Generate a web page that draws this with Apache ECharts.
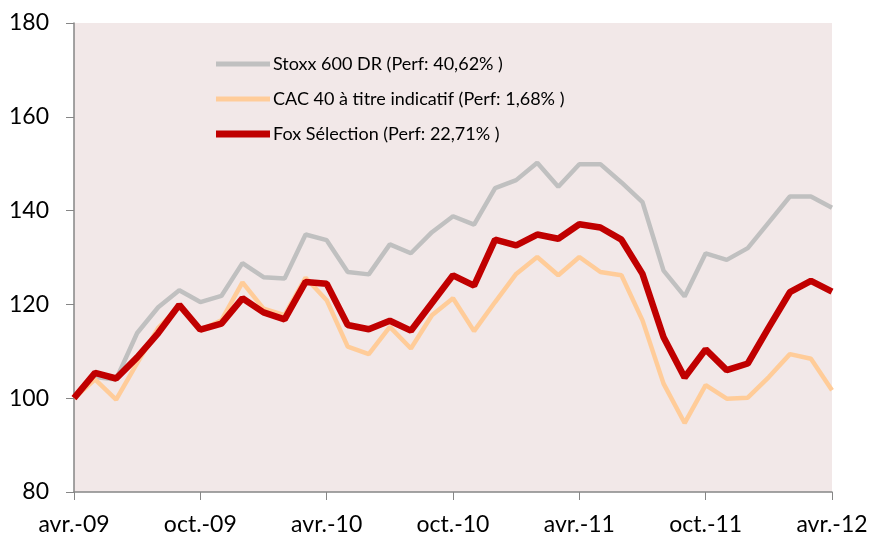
<!DOCTYPE html>
<html lang="fr">
  <head>
    <meta charset="UTF-8" />
    <title>Fox Sélection</title>
    <style>
      html, body { margin: 0; padding: 0; background: #fff; }
      #chart { width: 871px; height: 536px; }
    </style>
  </head>
  <body>
    <div id="chart"></div>
    <script src="https://cdn.jsdelivr.net/npm/echarts@6/dist/echarts.min.js"></script>
    <script>
      // mois, avr.-09 -> avr.-12
      var months = [
        'avr.-09', 'mai-09', 'juin-09', 'juil.-09', 'août-09', 'sept.-09',
        'oct.-09', 'nov.-09', 'déc.-09', 'janv.-10', 'févr.-10', 'mars-10',
        'avr.-10', 'mai-10', 'juin-10', 'juil.-10', 'août-10', 'sept.-10',
        'oct.-10', 'nov.-10', 'déc.-10', 'janv.-11', 'févr.-11', 'mars-11',
        'avr.-11', 'mai-11', 'juin-11', 'juil.-11', 'août-11', 'sept.-11',
        'oct.-11', 'nov.-11', 'déc.-11', 'janv.-12', 'févr.-12', 'mars-12',
        'avr.-12'
      ];

      var stoxx = [
        100, 104.5, 104, 113.9, 119.4, 123, 120.5, 121.8, 128.8, 125.8,
        125.5, 134.9, 133.7, 126.9, 126.4, 132.8, 130.9, 135.4, 138.8, 137,
        144.8, 146.5, 150.2, 145.1, 149.9, 149.9, 146, 141.8, 127.2, 121.7,
        130.9, 129.5, 132, 137.5, 143, 143, 140.62
      ];

      var cac = [
        100, 104, 99.7, 107.5, 115, 119.5, 114.5, 116.6, 124.7, 119.1,
        117.7, 125.7, 120.9, 111, 109.4, 115.2, 110.6, 117.7, 121.3, 114.3,
        120.5, 126.5, 130.1, 126.2, 130.1, 126.9, 126.2, 116.6, 103.1, 94.7,
        102.8, 99.9, 100.1, 104.5, 109.4, 108.4, 101.68
      ];

      var fox = [
        100, 105.4, 104.2, 108.7, 113.9, 119.9, 114.6, 115.9, 121.3, 118.3,
        116.8, 124.8, 124.4, 115.6, 114.7, 116.5, 114.4, 120.3, 126.2, 124,
        133.8, 132.6, 134.9, 134, 137.1, 136.4, 133.8, 126.5, 113, 104.4,
        110.4, 106, 107.4, 115.1, 122.6, 125, 122.71
      ];

      var names = [
        'Stoxx 600 DR (Perf: 40,62% )',
        'CAC 40 à titre indicatif (Perf: 1,68% )',
        'Fox Sélection (Perf: 22,71% )'
      ];

      var font = 'Lato, "Open Sans", sans-serif';
      var myChart = echarts.init(document.getElementById('chart'));

      var option = {
        animation: false,
        textStyle: { fontFamily: font },
        legend: {
          orient: 'vertical',
          left: 211,
          top: 50,
          itemGap: 17,
          itemWidth: 54,
          itemHeight: 18,
          data: [
            { name: names[0], icon: 'path://M0,0 L54,0 L54,5 L0,5 Z' },
            { name: names[1], icon: 'path://M0,0 L54,0 L54,5 L0,5 Z' },
            { name: names[2], icon: 'path://M0,0 L54,0 L54,7 L0,7 Z' }
          ],
          textStyle: { fontSize: 18, color: '#000', padding: [0, 0, 0, -2], fontFamily: font }
        },
        grid: {
          left: 74,
          right: 39,
          top: 23,
          bottom: 44,
          show: true,
          backgroundColor: '#F2E8E8',
          borderWidth: 0
        },
        xAxis: {
          type: 'category',
          boundaryGap: false,
          data: months,
          axisLine: { lineStyle: { color: '#868686', width: 1.5 } },
          axisTick: {
            alignWithLabel: true,
            interval: 5,
            length: 8,
            lineStyle: { color: '#868686' }
          },
          axisLabel: {
            interval: 5,
            fontSize: 23,
            color: '#000',
            margin: 21,
            fontFamily: font
          },
          splitLine: { show: false }
        },
        yAxis: {
          type: 'value',
          min: 80,
          max: 180,
          interval: 20,
          axisLine: { show: true, lineStyle: { color: '#868686', width: 1.5 } },
          axisTick: { show: true, length: 8, lineStyle: { color: '#868686' } },
          axisLabel: { fontSize: 23, color: '#000', margin: 25, fontFamily: font },
          splitLine: { show: false }
        },
        series: [
          {
            name: names[0],
            type: 'line',
            symbol: 'none',
            data: stoxx,
            lineStyle: { color: '#C0C0C0', width: 4.5 },
            itemStyle: { color: '#C0C0C0' }
          },
          {
            name: names[1],
            type: 'line',
            symbol: 'none',
            data: cac,
            lineStyle: { color: '#FFCC99', width: 4.5 },
            itemStyle: { color: '#FFCC99' }
          },
          {
            name: names[2],
            type: 'line',
            symbol: 'none',
            data: fox,
            lineStyle: { color: '#C00000', width: 6.5 },
            itemStyle: { color: '#C00000' }
          }
        ]
      };

      myChart.setOption(option);
    </script>
  </body>
</html>
